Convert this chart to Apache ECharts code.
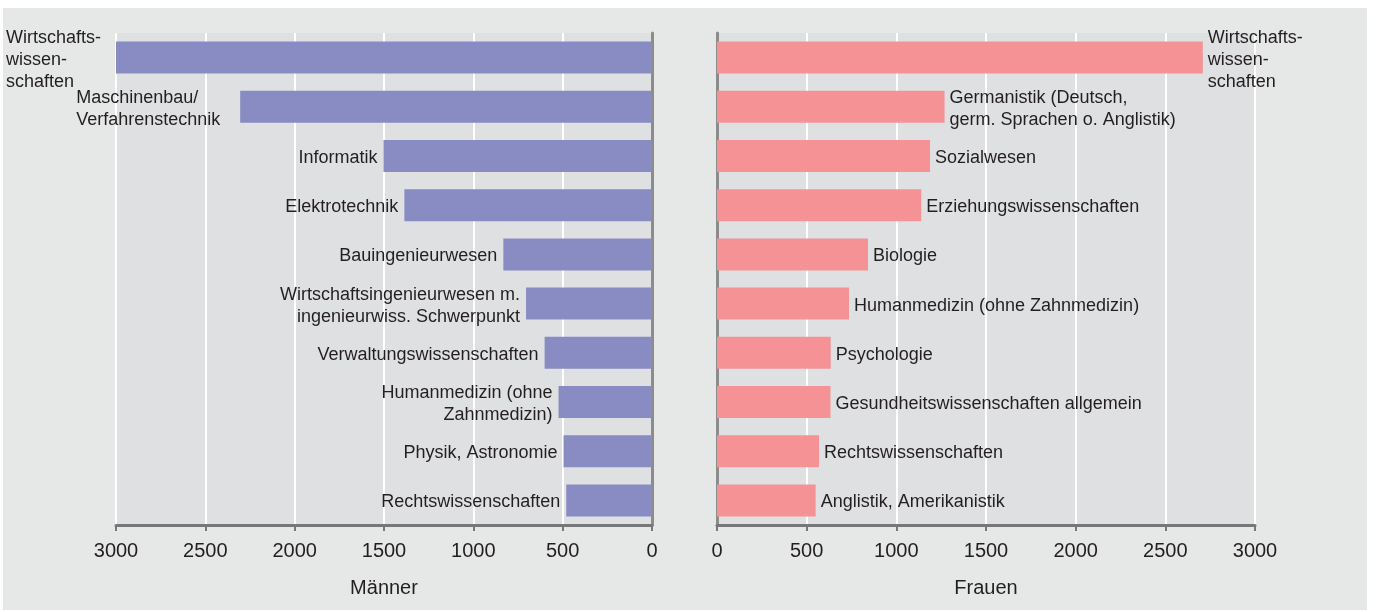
<!DOCTYPE html>
<html>
<head>
<meta charset="utf-8">
<script src="https://cdn.jsdelivr.net/npm/echarts@6/dist/echarts.min.js"></script>
<style>
html,body{margin:0;padding:0;background:#fff;}
#c{width:1376px;height:612px;}
</style>
</head>
<body>
<div id="c"></div>
<script>
// ---- Data ----
var menCategories = [
  'Wirtschafts-\nwissen-\nschaften',
  'Maschinenbau/\nVerfahrenstechnik',
  'Informatik',
  'Elektrotechnik',
  'Bauingenieurwesen',
  'Wirtschaftsingenieurwesen m.\ningenieurwiss. Schwerpunkt',
  'Verwaltungswissenschaften',
  'Humanmedizin (ohne\nZahnmedizin)',
  'Physik, Astronomie',
  'Rechtswissenschaften'
];
var menValues = [3000, 2305, 1503, 1386, 832, 705, 601, 523, 495, 480];

var womenCategories = [
  'Wirtschafts-\nwissen-\nschaften',
  'Germanistik (Deutsch,\ngerm. Sprachen o. Anglistik)',
  'Sozialwesen',
  'Erziehungswissenschaften',
  'Biologie',
  'Humanmedizin (ohne Zahnmedizin)',
  'Psychologie',
  'Gesundheitswissenschaften allgemein',
  'Rechtswissenschaften',
  'Anglistik, Amerikanistik'
];
var womenValues = [2709, 1269, 1188, 1139, 842, 736, 634, 633, 569, 550];

var axisTicks = [0, 500, 1000, 1500, 2000, 2500, 3000];
var axisNames = ['Männer', 'Frauen'];

// ---- Styling ----
var FONT = '"Liberation Sans", Arial, Helvetica, sans-serif';
var TEXT = '#231f20';

// per-item label overrides on left (men) side
var menLabelOverrides = {
  0: { align: 'left', distance: 110 },
  1: { align: 'left', distance: 164 }
};

var menData = menValues.map(function (v, i) {
  var d = { value: v };
  if (menLabelOverrides[i]) d.label = menLabelOverrides[i];
  return d;
});

var chart = echarts.init(document.getElementById('c'), null, { renderer: 'canvas' });

function valueAxis(gridIndex, inverse, name) {
  return {
    type: 'value',
    gridIndex: gridIndex,
    inverse: inverse,
    min: axisTicks[0],
    max: axisTicks[axisTicks.length - 1],
    interval: 500,
    name: name,
    nameLocation: 'middle',
    nameGap: 53,
    nameTextStyle: { fontFamily: FONT, fontSize: 20, color: TEXT },
    axisLine: { show: true, onZero: false, lineStyle: { color: '#777777', width: 3 } },
    axisTick: { show: true, length: 6, lineStyle: { color: '#777777', width: 2 } },
    axisLabel: {
      fontFamily: FONT, fontSize: 20, color: TEXT, margin: 16,
      formatter: function (v) { return String(v); }
    },
    splitLine: { show: true, lineStyle: { color: '#ffffff', width: 2 } }
  };
}

function catAxis(gridIndex, data, position) {
  return {
    type: 'category',
    gridIndex: gridIndex,
    data: data,
    inverse: true,
    position: position,
    axisLine: { show: true, lineStyle: { color: '#8c8c8c', width: 3 } },
    axisTick: { show: false },
    axisLabel: { show: false },
    splitLine: { show: false }
  };
}

var option = {
  backgroundColor: '#ffffff',
  animation: false,
  graphic: [{
    type: 'rect',
    z: -10,
    silent: true,
    shape: { x: 3, y: 8, width: 1364, height: 602 },
    style: { fill: '#e6e7e7' }
  }],
  grid: [
    { left: 116, right: 724, top: 33, bottom: 87, show: true, backgroundColor: '#dfe0e2', borderWidth: 0 },
    { left: 717, right: 121, top: 33, bottom: 87, show: true, backgroundColor: '#dfe0e2', borderWidth: 0 }
  ],
  xAxis: [valueAxis(0, true, axisNames[0]), valueAxis(1, false, axisNames[1])],
  yAxis: [catAxis(0, menCategories, 'right'), catAxis(1, womenCategories, 'left')],
  series: [
    {
      type: 'bar',
      xAxisIndex: 0,
      yAxisIndex: 0,
      data: menData,
      barWidth: 32,
      itemStyle: { color: '#898bc3' },
      label: {
        show: true,
        position: 'left',
        distance: 6,
        offset: [0, 2],
        formatter: function (p) { return p.name; },
        fontFamily: FONT,
        fontSize: 18,
        lineHeight: 22,
        color: TEXT
      }
    },
    {
      type: 'bar',
      xAxisIndex: 1,
      yAxisIndex: 1,
      data: womenValues,
      barWidth: 32,
      itemStyle: { color: '#f49296' },
      label: {
        show: true,
        position: 'right',
        distance: 5,
        align: 'left',
        offset: [0, 2],
        formatter: function (p) { return p.name; },
        fontFamily: FONT,
        fontSize: 18,
        lineHeight: 22,
        color: TEXT
      }
    }
  ]
};
chart.setOption(option);
</script>
</body>
</html>
